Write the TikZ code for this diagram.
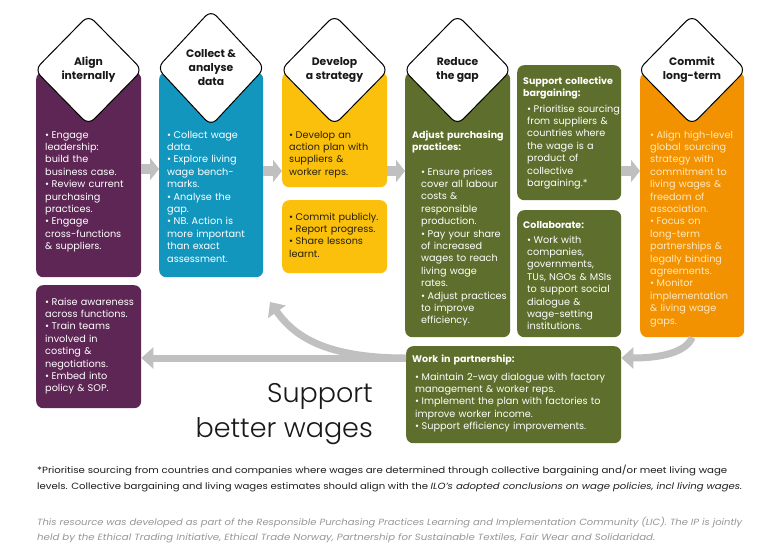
\documentclass[tikz,border=0pt]{standalone}
\usepackage{fontspec}
\setmainfont{Poppins}
\newfontfamily\lightfont{Poppins Light}
\usetikzlibrary{shapes.geometric,arrows.meta}
\definecolor{purp}{RGB}{93,38,84}
\definecolor{bluec}{RGB}{18,150,190}
\definecolor{yel}{RGB}{250,192,12}
\definecolor{grn}{RGB}{94,110,44}
\definecolor{org}{RGB}{243,146,0}
\definecolor{agray}{RGB}{192,192,192}
\definecolor{orgtext}{RGB}{255,232,192}
\definecolor{darktext}{RGB}{40,32,10}
\definecolor{foottext}{RGB}{30,30,30}
\definecolor{greytext}{RGB}{150,150,150}
\setlength{\parindent}{0pt}
\newlength{\bdent}\setlength{\bdent}{6.5pt}
\newcommand{\bitem}[1]{\ifvmode\noindent\fi\hangindent=\bdent\hangafter=1\makebox[\bdent][l]{\textbullet}#1\par}
\begin{document}
\begin{tikzpicture}[x=1pt,y=-1pt,
  box/.style={rounded corners=7pt, inner sep=0pt, anchor=north west, draw=none},
  diam/.style={diamond, draw=black, line width=1pt, fill=white, rounded corners=8pt, inner sep=0pt,
    minimum width=108pt, minimum height=110pt, align=center, font=\fontsize{10.8}{14}\selectfont\bfseries, text=black!90},
  btext/.style={inner sep=0pt, anchor=base west, text width=125pt, align=left, font=\fontsize{9.7}{12.4}\selectfont, text=white},
  htext/.style={inner sep=0pt, anchor=base west, text width=125pt, align=left, font=\fontsize{9.5}{12.2}\selectfont\bfseries, text=white},
  blk/.style={draw=agray, line width=10pt, -{Triangle[width=22pt,length=9pt]}},
  garrow/.style={draw=agray, line width=7pt, -{Triangle[width=21pt,length=12pt]}},
  foot/.style={inner sep=0pt, anchor=base west, font=\fontsize{9}{11}\selectfont, text=foottext},
  big/.style={inner sep=0pt, anchor=base east, font=\lightfont\fontsize{27}{32}\selectfont, text=black!90}
]
\useasboundingbox[fill=white] (0,0) rectangle (767,551);

% boxes
\node[box, fill=purp, minimum width=105pt, minimum height=205pt] (b1) at (36,72) {};
\node[box, fill=bluec, minimum width=104pt, minimum height=205pt] (b2) at (159,72) {};
\node[box, fill=yel, minimum width=105pt, minimum height=115pt] (b3) at (282,72) {};
\node[box, fill=yel, minimum width=105pt, minimum height=73pt] (b3b) at (282,200) {};
\node[box, fill=grn, minimum width=105pt, minimum height=265pt] (b4) at (405,72) {};
\node[box, fill=grn, minimum width=104pt, minimum height=135pt] (cb) at (517,65) {};
\node[box, fill=grn, minimum width=104pt, minimum height=127pt] (col) at (517,210) {};
\node[box, fill=org, minimum width=104pt, minimum height=265pt] (b5) at (640,72) {};
\node[box, fill=purp, minimum width=105pt, minimum height=123pt] (pb) at (36,285) {};
\node[box, fill=grn, minimum width=215pt, minimum height=97pt] (wip) at (406,346) {};

% diamonds
\node[diam] (d1) at (88.5,70) {Align\\internally};
\node[diam, minimum height=116pt] (d2) at (211,68) {Collect \&\\analyse\\data};
\node[diam] (d3) at (334.5,70) {Develop\\a strategy};
\node[diam] (d4) at (457.5,70) {Reduce\\the gap};
\node[diam] (d5) at (692,70) {Commit\\long-term};

% texts
\node[btext] (t1) at (45,138) {\bitem{Engage\\leadership:\\build the\\business case.}\bitem{Review current\\purchasing\\practices.}\bitem{Engage\\cross-functions\\\& suppliers.}};
\node[btext] (t2) at (167,138) {\bitem{Collect wage\\data.}\bitem{Explore living\\wage bench-\\marks.}\bitem{Analyse the\\gap.}\bitem{NB. Action is\\more important\\than exact\\assessment.}};
\node[btext, text=darktext] (t3) at (289,138) {\bitem{Develop an\\action plan with\\suppliers \&\\worker reps.}};
\node[btext, text=darktext] (t3b) at (289,220) {\bitem{Commit publicly.}\bitem{Report progress.}\bitem{Share lessons\\learnt.}};
\node[htext] (h4) at (412,138) {Adjust purchasing\\practices:};
\node[btext] (t4) at (421,175) {\bitem{Ensure prices\\cover all labour\\costs \&\\responsible\\production.}\bitem{Pay your share\\of increased\\wages to reach\\living wage\\rates.}\bitem{Adjust practices\\to improve\\efficiency.}};
\node[htext] (hcb) at (523,84) {Support collective\\bargaining:};
\node[btext] (tcb) at (527,112) {\bitem{Prioritise sourcing\\from suppliers \&\\countries where\\the wage is a\\product of\\collective\\bargaining.*}};
\node[htext] (hcol) at (523,228) {Collaborate:};
\node[btext] (tcol) at (527,243) {\bitem{Work with\\companies,\\governments,\\TUs, NGOs \& MSIs\\to support social\\dialogue \&\\wage-setting\\institutions.}};
\node[btext, text=orgtext] (t5) at (650,138) {\bitem{Align high-level\\global sourcing\\strategy with\\commitment to\\living wages \&\\freedom of\\association.}\bitem{Focus on\\long-term\\partnerships \&\\legally binding\\agreements.}\bitem{Monitor\\implementation\\\& living wage\\gaps.}};
\node[htext] (hwip) at (412,362) {Work in partnership:};
\node[btext, text width=220pt] (twip) at (415,380) {\bitem{Maintain 2-way dialogue with factory\\management \& worker reps.}\bitem{Implement the plan with factories to\\improve worker income.}\bitem{Support efficiency improvements.}};
\node[btext] (tpb) at (45,305) {\bitem{Raise awareness\\across functions.}\bitem{Train teams\\involved in\\costing \&\\negotiations.}\bitem{Embed into\\policy \& SOP.}};

% block arrows
\coordinate (r1) at (0,169);
\coordinate (r2) at (0,171);
\draw[blk] (b1.east |- r1) -- (b2.west |- r1);
\draw[blk] (b2.east |- r2) -- (b3.west |- r2);
\draw[blk] (b3.east |- r2) -- (b4.west |- r2);
\draw[blk] (cb.east |- r2) -- (b5.west |- r2);

% curved / long arrows
\coordinate (r5) at (0,358);
\coordinate (ut) at (270,302);
\draw[garrow] (wip.west |- r5) .. controls (325,358) and (294,336) .. (ut);
\draw[garrow] (wip.west |- r5) -- (pb.east |- r5);
\draw[garrow] (b5.south) .. controls (686,352) and (662,358) .. (wip.east |- r5);

% big label
\node[big] (s1) at (373,402) {Support};
\node[big] (s2) at (373,437) {better wages};

% footnotes
\node[foot] (f1) at (37,473) {\resizebox{690pt}{\height}{*Prioritise sourcing from countries and companies where wages are determined through collective bargaining and/or meet living wage}};
\node[foot] (f2) at (37,489) {\resizebox{705pt}{\height}{levels. Collective bargaining and living wages estimates should align with the \textit{ILO's adopted conclusions on wage policies, incl living wages.}}};
\node[foot, text=greytext, font=\fontsize{9}{11}\selectfont\itshape] (f3) at (37,525) {\resizebox{705pt}{\height}{This resource was developed as part of the Responsible Purchasing Practices Learning and Implementation Community (LIC). The IP is jointly}};
\node[foot, text=greytext, font=\fontsize{9}{11}\selectfont\itshape] (f4) at (37,540) {\resizebox{618pt}{\height}{held by the Ethical Trading Initiative, Ethical Trade Norway, Partnership for Sustainable Textiles, Fair Wear and Solidaridad.}};
\end{tikzpicture}
\end{document}
